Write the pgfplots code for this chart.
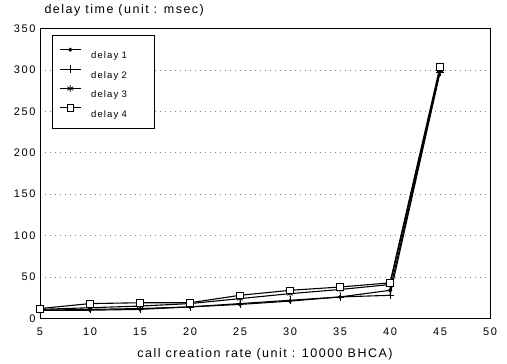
\documentclass[border=0pt]{standalone}
\usepackage{fontspec}
\setmainfont{Liberation Sans}
\newfontfamily\spaced[LetterSpace=12]{Liberation Sans}
\newfontfamily\tickf[LetterSpace=15]{Liberation Sans}
\usepackage{pgfplots}
\pgfplotsset{compat=1.18}
\begin{document}
\begin{tikzpicture}
\path[use as bounding box] (-40pt,-45.5pt) rectangle (467pt,318.5pt);
\begin{axis}[
  scale only axis,
  width=450pt, height=290pt,
  xmin=5, xmax=50, ymin=0, ymax=350,
  xtick={5,10,...,50}, ytick={0,50,...,350},
  major tick length=0pt,
  /pgf/number format/assume math mode=true,
  tick label style={font=\tickf\fontsize{11}{13}\selectfont},
  xticklabel style={yshift=-6pt},
  yticklabel style={xshift=-1pt},
  ymajorgrids,
  major grid style={gray, line width=0.6pt, dash pattern=on 1pt off 4pt},
  axis line style={line width=0.9pt},
  xlabel={\spaced\fontsize{12.5}{14}\selectfont call creation rate (unit : 10000 BHCA)},
  xlabel style={at={(axis description cs:0.5,0)}, anchor=base, yshift=-39.5pt},
  title={\spaced\fontsize{12.5}{14}\selectfont delay time (unit : msec)},
  title style={at={(axis description cs:0,1)}, anchor=base west, yshift=9pt, xshift=1pt},
  legend style={at={(0.027,0.976)}, anchor=north west, font=\spaced\fontsize{9.5}{11}\selectfont,
    draw=black, line width=0.8pt, row sep=3.4pt, inner xsep=7pt, inner ysep=9pt,
    nodes={text width=62pt, align=left, text height=12pt, text depth=0pt}},
  legend image code/.code={
    \draw[#1, mark repeat=2, mark phase=2] plot coordinates {(0cm,0.11cm) (0.36cm,0.11cm) (0.72cm,0.11cm)};},
  legend cell align=left,
]
\addplot[black, line width=1.1pt, mark=*, mark size=1.4pt, mark options={solid, fill=black}] coordinates {
(5,10) (10,10) (15,11) (20,14) (25,17) (30,21) (35,26) (40,34) (45,298)};
\addlegendentry{\hspace*{8pt}delay 1}
\addplot[black, line width=1.1pt, mark=+, mark size=4pt, mark options={solid, line width=0.7pt}] coordinates {
(5,10) (10,11) (15,12) (20,14) (25,18) (30,22) (35,26) (40,28) (45,297)};
\addlegendentry{\hspace*{8pt}delay 2}
\addplot[black, line width=1.1pt, mark=asterisk, mark size=3.5pt, mark options={solid, line width=0.7pt}] coordinates {
(5,11) (10,13) (15,15) (20,18) (25,24) (30,30) (35,35) (40,41) (45,300)};
\addlegendentry{\hspace*{8pt}delay 3}
\addplot[black, line width=1.1pt, mark=square*, mark size=3.3pt, mark options={solid, fill=white, line width=0.7pt}] coordinates {
(5,12) (10,18) (15,19) (20,19) (25,28) (30,34) (35,38) (40,43) (45,304)};
\addlegendentry{\hspace*{8pt}delay 4}
\end{axis}
\end{tikzpicture}
\end{document}
